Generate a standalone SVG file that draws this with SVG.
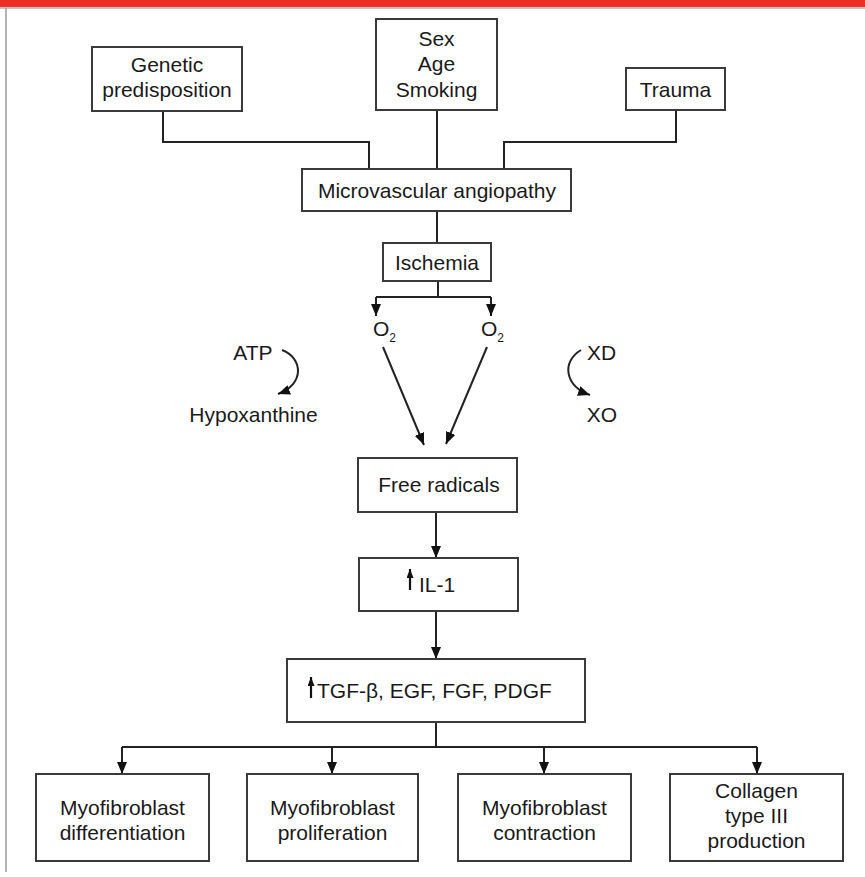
<svg xmlns="http://www.w3.org/2000/svg" width="865" height="877" viewBox="0 0 865 877">
<style>
  .box { fill: #fff; stroke: #3a3a3a; stroke-width: 2; }
  .t { font-family: "Liberation Sans", Arial, sans-serif; font-size: 21px; fill: #1a1a1a; text-anchor: middle; }
  .ts { font-family: "Liberation Sans", Arial, sans-serif; font-size: 21px; fill: #1a1a1a; text-anchor: start; }
  .sub { font-size: 12px; }
  .ln { fill: none; stroke: #222; stroke-width: 2; }
  .up { fill: none; stroke: #111; stroke-width: 2.2; }
</style>
<defs>
  <marker id="ah" viewBox="0 0 12 10" refX="12" refY="5" markerWidth="12" markerHeight="10" markerUnits="userSpaceOnUse" orient="auto">
    <path d="M0,0 L12,5 L0,10 z" fill="#111"/>
  </marker>
  <marker id="ahs" viewBox="0 0 9 7" refX="9" refY="3.5" markerWidth="9" markerHeight="7" markerUnits="userSpaceOnUse" orient="auto">
    <path d="M0,0 L9,3.5 L0,7 z" fill="#111"/>
  </marker>
</defs>

<rect x="0" y="0" width="865" height="7" fill="#ee3124"/>
<line x1="0" y1="8" x2="865" y2="8" stroke="#8a8a8a" stroke-width="1.2"/>
<line x1="6" y1="8" x2="6" y2="872" stroke="#9a9a9a" stroke-width="1.5"/>

<g id="connectors">
  <path class="ln" d="M163,111 V142 H369 V169"/>
  <path class="ln" d="M437,110 V169"/>
  <path class="ln" d="M676,110 V142 H504 V169"/>
  <path class="ln" d="M437,211 V243"/>
  <path class="ln" d="M438,281 V297"/>
  <path class="ln" d="M376,297 H491"/>
  <path class="ln" d="M376,297 V316" marker-end="url(#ah)"/>
  <path class="ln" d="M491,297 V316" marker-end="url(#ah)"/>
  <path class="ln" d="M383,347 L424,445" marker-end="url(#ah)"/>
  <path class="ln" d="M487,347 L446,444" marker-end="url(#ah)"/>
  <path class="ln" d="M282,350 C303,358 305,384 278,394" marker-end="url(#ah)"/>
  <path class="ln" d="M581,350 C561,362 565,386 590,395" marker-end="url(#ah)"/>
  <path class="ln" d="M436,512 V558" marker-end="url(#ah)"/>
  <path class="ln" d="M436,611 V659" marker-end="url(#ah)"/>
  <path class="ln" d="M436,722 V747"/>
  <path class="ln" d="M122,747 H757"/>
  <path class="ln" d="M122,747 V774" marker-end="url(#ah)"/>
  <path class="ln" d="M332,747 V774" marker-end="url(#ah)"/>
  <path class="ln" d="M544,747 V774" marker-end="url(#ah)"/>
  <path class="ln" d="M757,747 V774" marker-end="url(#ah)"/>
</g>

<g id="genetic">
  <rect class="box" x="92" y="47" width="150" height="64"/>
  <text class="t" x="167" y="72">Genetic</text>
  <text class="t" x="167" y="97">predisposition</text>
</g>
<g id="sexagesmoking">
  <rect class="box" x="376" y="19" width="121" height="91"/>
  <text class="t" x="436.5" y="46">Sex</text>
  <text class="t" x="436.5" y="71">Age</text>
  <text class="t" x="436.5" y="97">Smoking</text>
</g>
<g id="trauma">
  <rect class="box" x="626" y="68" width="99" height="42"/>
  <text class="t" x="675.5" y="96.5">Trauma</text>
</g>
<g id="microvascular">
  <rect class="box" x="302" y="169" width="269" height="42"/>
  <text class="t" x="437" y="197.5">Microvascular angiopathy</text>
</g>
<g id="ischemia">
  <rect class="box" x="383" y="243" width="108" height="38"/>
  <text class="t" x="437" y="269.5">Ischemia</text>
</g>
<g id="o2left">
  <text class="ts" x="373" y="336">O<tspan class="sub" dy="6">2</tspan></text>
</g>
<g id="o2right">
  <text class="ts" x="481" y="336">O<tspan class="sub" dy="6">2</tspan></text>
</g>
<g id="atp">
  <text class="t" x="253" y="360">ATP</text>
</g>
<g id="hypoxanthine">
  <text class="t" x="253.5" y="422">Hypoxanthine</text>
</g>
<g id="xd">
  <text class="t" x="601.5" y="360">XD</text>
</g>
<g id="xo">
  <text class="t" x="602" y="422">XO</text>
</g>
<g id="freeradicals">
  <rect class="box" x="358" y="458" width="159" height="54"/>
  <text class="t" x="439" y="492">Free radicals</text>
</g>
<g id="il1">
  <rect class="box" x="359" y="558" width="159" height="53"/>
  <path class="up" d="M410,590 V569" marker-end="url(#ahs)"/>
  <text class="ts" x="419" y="592">IL-1</text>
</g>
<g id="tgf">
  <rect class="box" x="287" y="659" width="298" height="63"/>
  <path class="up" d="M311,698 V677" marker-end="url(#ahs)"/>
  <text class="ts" x="317" y="698">TGF-β, EGF, FGF, PDGF</text>
</g>
<g id="diff">
  <rect class="box" x="36" y="774" width="173" height="87"/>
  <text class="t" x="122.5" y="815">Myofibroblast</text>
  <text class="t" x="122.5" y="840">differentiation</text>
</g>
<g id="prolif">
  <rect class="box" x="247" y="774" width="171" height="87"/>
  <text class="t" x="332.5" y="815">Myofibroblast</text>
  <text class="t" x="332.5" y="840">proliferation</text>
</g>
<g id="contraction">
  <rect class="box" x="458" y="774" width="173" height="87"/>
  <text class="t" x="544.5" y="815">Myofibroblast</text>
  <text class="t" x="544.5" y="840">contraction</text>
</g>
<g id="collagen">
  <rect class="box" x="670" y="774" width="173" height="87"/>
  <text class="t" x="756.5" y="798">Collagen</text>
  <text class="t" x="756.5" y="823">type III</text>
  <text class="t" x="756.5" y="848">production</text>
</g>
</svg>
